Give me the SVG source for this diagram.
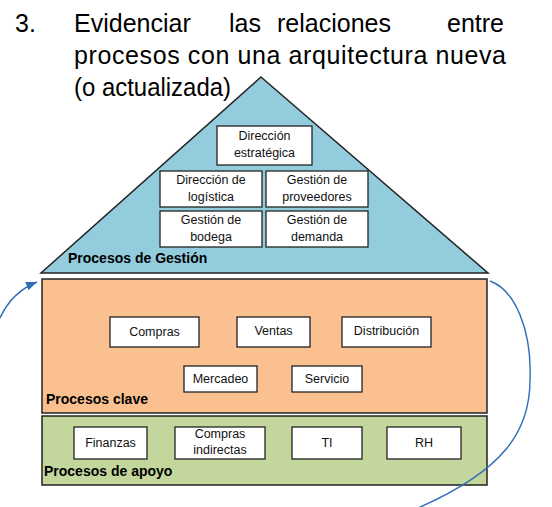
<svg xmlns="http://www.w3.org/2000/svg" width="552" height="507" viewBox="0 0 552 507">
<style>
.title{font-family:"Liberation Sans",Arial,sans-serif;font-size:25px;fill:#000}
.box{fill:#fff;stroke:#222;stroke-width:1.3}
.bt{font-family:"Liberation Sans",Arial,sans-serif;font-size:12.5px;fill:#111;text-anchor:middle}
.lab{font-family:"Liberation Sans",Arial,sans-serif;font-size:14px;font-weight:bold;fill:#000}
.outer{stroke:#222;stroke-width:1.5}
.conn{fill:none;stroke:#2E6DB8;stroke-width:1.4}
</style>
<defs>
<marker id="ah" markerUnits="userSpaceOnUse" markerWidth="12" markerHeight="10" refX="11" refY="4.5" orient="auto">
<path d="M0,0 L11,4.5 L0,9 z" fill="#2E6DB8"/>
</marker>
</defs>
<rect width="552" height="507" fill="#fff"/>
<g id="title">
<text class="title" x="15" y="32">3.</text>
<text class="title" x="74" y="32">Evidenciar</text>
<text class="title" x="229" y="32">las</text>
<text class="title" x="277" y="32">relaciones</text>
<text class="title" x="447" y="32">entre</text>
<text class="title" x="74" y="64" textLength="432" lengthAdjust="spacing">procesos con una arquitectura nueva</text>
<text class="title" x="74" y="96" textLength="157" lengthAdjust="spacingAndGlyphs">(o actualizada)</text>
</g>
<g id="procesos-gestion">
<polygon class="outer" points="261,77 488,273 41,273" fill="#93CDDD"/>
<text class="lab" x="68" y="263">Procesos de Gestión</text>
</g>
<g id="procesos-clave">
<rect class="outer" x="42" y="279" width="445" height="134" fill="#FAC090"/>
<text class="lab" x="46" y="404">Procesos clave</text>
</g>
<g id="procesos-apoyo">
<rect class="outer" x="42" y="416" width="445" height="69" fill="#C3D69B"/>
<text class="lab" x="44" y="476">Procesos de apoyo</text>
</g>
<g id="direccion-estrategica">
<rect class="box" x="217" y="126" width="95" height="39"/>
<text class="bt" x="264.5" y="140">Dirección</text>
<text class="bt" x="264.5" y="157">estratégica</text>
</g>
<g id="direccion-logistica">
<rect class="box" x="160" y="171" width="102" height="36"/>
<text class="bt" x="211" y="184">Dirección de</text>
<text class="bt" x="211" y="201">logística</text>
</g>
<g id="gestion-proveedores">
<rect class="box" x="266" y="171" width="102" height="36"/>
<text class="bt" x="317" y="184">Gestión de</text>
<text class="bt" x="317" y="201">proveedores</text>
</g>
<g id="gestion-bodega">
<rect class="box" x="160" y="211" width="102" height="36"/>
<text class="bt" x="211" y="224">Gestión de</text>
<text class="bt" x="211" y="241">bodega</text>
</g>
<g id="gestion-demanda">
<rect class="box" x="266" y="211" width="102" height="36"/>
<text class="bt" x="317" y="224">Gestión de</text>
<text class="bt" x="317" y="241">demanda</text>
</g>
<g id="compras">
<rect class="box" x="110" y="317" width="89" height="30"/>
<text class="bt" x="154.5" y="336">Compras</text>
</g>
<g id="ventas">
<rect class="box" x="237" y="317" width="73" height="30"/>
<text class="bt" x="273.5" y="335">Ventas</text>
</g>
<g id="distribucion">
<rect class="box" x="342" y="317" width="89" height="30"/>
<text class="bt" x="386.5" y="335">Distribución</text>
</g>
<g id="mercadeo">
<rect class="box" x="184" y="366" width="73" height="26"/>
<text class="bt" x="220.5" y="383">Mercadeo</text>
</g>
<g id="servicio">
<rect class="box" x="292" y="366" width="70" height="26"/>
<text class="bt" x="327" y="383">Servicio</text>
</g>
<g id="finanzas">
<rect class="box" x="74" y="427" width="73" height="32"/>
<text class="bt" x="110.5" y="447">Finanzas</text>
</g>
<g id="compras-indirectas">
<rect class="box" x="175" y="427" width="90" height="32"/>
<text class="bt" x="220" y="438">Compras</text>
<text class="bt" x="220" y="454">indirectas</text>
</g>
<g id="ti">
<rect class="box" x="292" y="427" width="70" height="32"/>
<text class="bt" x="327" y="447">TI</text>
</g>
<g id="rh">
<rect class="box" x="387" y="427" width="74" height="32"/>
<text class="bt" x="424" y="447">RH</text>
</g>
<g id="connectors">
<path class="conn" d="M0,318 Q12,292 37,282" marker-end="url(#ah)"/>
<path class="conn" d="M490,281 C515,290 532,330 530,380 C530,430 505,470 418,508"/>
</g>
</svg>
